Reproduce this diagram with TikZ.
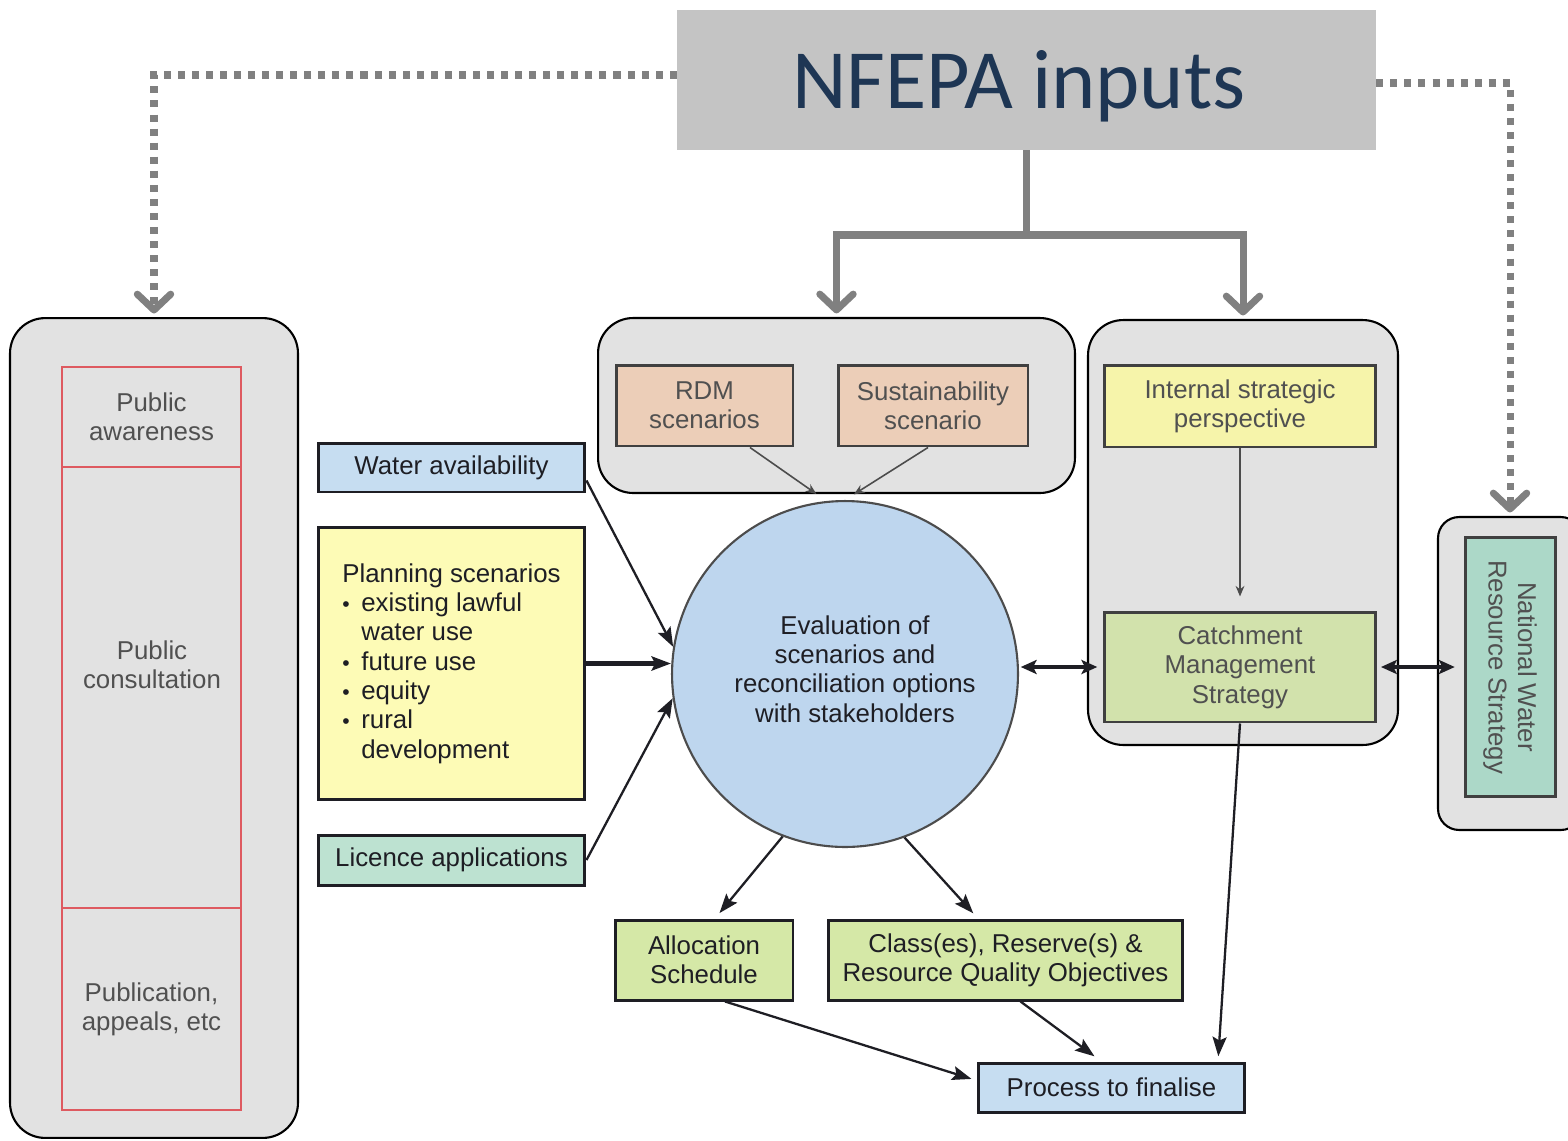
\documentclass[tikz,border=0pt]{standalone}
\usepackage{fontspec}
\setmainfont{Liberation Sans}
\newfontfamily\calib{Carlito}
\usetikzlibrary{arrows.meta,calc}
\definecolor{panelfill}{RGB}{226,226,226}
\definecolor{nfgray}{RGB}{196,196,196}
\definecolor{navy}{RGB}{30,54,84}
\definecolor{garrowc}{RGB}{128,128,128}
\definecolor{peach}{RGB}{236,206,184}
\definecolor{ispyel}{RGB}{246,244,170}
\definecolor{cmsgreen}{RGB}{210,226,172}
\definecolor{nwrsteal}{RGB}{172,216,200}
\definecolor{lblue}{RGB}{198,221,241}
\definecolor{planyel}{RGB}{253,251,182}
\definecolor{licteal}{RGB}{189,226,209}
\definecolor{ogreen}{RGB}{213,232,167}
\definecolor{circblue}{RGB}{190,214,238}
\definecolor{redline}{RGB}{222,90,96}
\definecolor{ptextc}{RGB}{80,80,80}
\definecolor{otextc}{RGB}{30,30,36}
\newcommand\boxfont{\fontsize{14.7}{16.7}\selectfont}
\newcommand\bul{\makebox[0.38cm][l]{\fontsize{12}{12}\selectfont\textbullet}}
\newcommand\ind{\hspace*{0.38cm}}
\begin{document}
\begin{tikzpicture}[x=0.02cm,y=-0.02cm,
  panel/.style={draw=black, line width=1.2pt, fill=panelfill, rounded corners=20pt, inner sep=0pt},
  obox/.style={draw=otextc, line width=1.7pt, align=center, inner sep=0pt, font=\boxfont, text=otextc},
  pbox/.style={draw=black!75, line width=1.7pt, align=center, inner sep=0pt, font=\boxfont, text=ptextc},
  redbox/.style={draw=redline, line width=1.3pt, align=center, inner sep=0pt, font=\boxfont, text=ptextc},
  gline/.style={draw=garrowc, line width=4pt},
  garrow/.style={gline, -{Straight Barb[length=9pt,width=19pt,round]}},
  dline/.style={draw=garrowc, line width=4pt, dash pattern=on 4pt off 4pt, -{Straight Barb[length=9pt,width=19pt,round]}},
  barrow/.style={draw=otextc, line width=1.3pt, -{Stealth[length=11pt,width=8pt,inset=2pt]}},
  sarrow/.style={draw=black!70, line width=0.9pt, -{Stealth[length=6pt,width=5pt]}},
  dbl/.style={draw=otextc, line width=1.8pt, {Stealth[length=9pt,width=8pt,inset=2pt]}-{Stealth[length=9pt,width=8pt,inset=2pt]}}
]
\useasboundingbox (0,0) rectangle (1568,1140);
\fill[white] (0,0) rectangle (1568,1140);

% NFEPA box
\node[fill=nfgray, minimum width=13.98cm, minimum height=2.8cm] (nfepa) at (1026.5,80) {};
\node[font=\calib\fontsize{48}{50}\selectfont, text=navy, text depth=0pt, inner sep=0pt] (nfepatext) at (1019,79) {NFEPA inputs};

% panels
\node[panel, minimum width=5.76cm, minimum height=16.4cm] (lp) at (154,728) {};
\node[panel, minimum width=9.54cm, minimum height=3.5cm] (tp) at (836.5,405.5) {};
\node[panel, minimum width=6.2cm, minimum height=8.5cm] (rp) at (1243,532.5) {};
\node[panel, rounded corners=12pt, minimum width=2.88cm, minimum height=6.26cm] (fp) at (1510,673.5) {};

% left column
\node[redbox, minimum width=3.58cm, minimum height=2cm] (pa) at (151.5,417) {Public\\awareness};
\node[redbox, minimum width=3.58cm, minimum height=8.82cm] (pc) at (151.5,687.5) {};
\node[font=\boxfont, text=ptextc, align=center, inner sep=0pt] (pctext) at (152,665) {Public\\consultation};
\node[redbox, minimum width=3.58cm, minimum height=4.04cm] (pub) at (151.5,1009) {Publication,\\appeals, etc};

% top panel boxes
\node[pbox, fill=peach, minimum width=3.54cm, minimum height=1.62cm] (rdm) at (704.5,405.5) {RDM\\scenarios};
\node[pbox, fill=peach, minimum width=3.8cm, minimum height=1.62cm] (sust) at (933,405.5) {Sustainability\\scenario};

% right panel boxes
\node[pbox, fill=ispyel, minimum width=5.44cm, minimum height=1.64cm] (isp) at (1240,406) {Internal strategic\\perspective};
\node[pbox, fill=cmsgreen, minimum width=5.44cm, minimum height=2.2cm] (cms) at (1240,667) {Catchment\\Management\\Strategy};
\node[pbox, fill=nwrsteal, rotate=-90, minimum width=5.2cm, minimum height=1.8cm] (nwrs) at (1510,667) {National Water\\Resource Strategy};

% circle
\node[circle, draw=black!70, line width=1.2pt, fill=circblue, minimum size=6.92cm, inner sep=0pt] (circ) at (845,674) {};
\node[align=center, font=\boxfont, text=otextc, inner sep=0pt] (circtext) at (855,669)
      {Evaluation of\\scenarios and\\reconciliation options\\with stakeholders};

% left input boxes
\node[obox, fill=lblue, minimum width=5.34cm, minimum height=0.98cm] (water) at (451.5,467.5) {Water availability};
\node[obox, fill=planyel, minimum width=5.34cm, minimum height=5.46cm, align=left] (plan) at (451.5,663.5)
  {Planning scenarios\\\bul existing lawful\\\ind water use\\\bul future use\\\bul equity\\\bul rural\\\ind development};
\node[obox, fill=licteal, minimum width=5.34cm, minimum height=1.0cm] (lic) at (451.5,860) {Licence applications};

% outputs
\node[obox, fill=ogreen, minimum width=3.56cm, minimum height=1.6cm] (alloc) at (704,960) {Allocation\\Schedule};
\node[obox, fill=ogreen, minimum width=7.1cm, minimum height=1.6cm] (cls) at (1005.5,960) {Class(es), Reserve(s) \&\\Resource Quality Objectives};
\node[obox, fill=lblue, minimum width=5.34cm, minimum height=0.98cm] (proc) at (1111.5,1087.5) {Process to finalise};

% gray connectors
\coordinate (j) at (nfepa.south |- 0,235);
\draw[gline] (nfepa.south) -- (j);
\draw[garrow, shorten >=2pt] (j) -| (tp.north);
\draw[garrow, shorten >=2pt] (j) -| (rp.north);
\draw[dline, shorten >=2pt] ([yshift=0.1cm]nfepa.west) -| (lp.north);
\draw[dline, shorten >=2pt] ([yshift=-0.06cm]nfepa.east) -| (fp.north);

% inputs to circle
\draw[barrow] ($(water.east)+(0,13)$) -- (circ.171);
\draw[barrow, line width=2.3pt] (plan.east) -- (plan.east -| circ.west);
\draw[barrow] (lic.east) -- (circ.188);

% scenario arrows
\draw[sarrow, shorten >=6pt] ([xshift=0.91cm]rdm.south) -- ([xshift=-0.4cm]circ.north);
\draw[sarrow, shorten >=6pt] ([xshift=-0.1cm]sust.south) -- (circ.north);
\draw[sarrow, shorten >=8pt] (isp.south) -- (cms.north);

% double arrows
\draw[dbl, shorten <=1pt, shorten >=3pt] (circ.east |- cms.west) -- (cms.west);
\draw[dbl, shorten <=2pt, shorten >=5pt] (cms.east) -- (cms.east -| nwrs.south);

% outputs
\draw[barrow, shorten >=4pt] (circ.249) -- ([xshift=0.22cm]alloc.north);
\draw[barrow, shorten >=4pt] (circ.290) -- ([xshift=-0.55cm]cls.north);
\draw[barrow, shorten >=3pt] (cms.south) -- ([xshift=2.13cm]proc.north);
\draw[barrow, shorten >=3pt] ([xshift=0.42cm]alloc.south) -- ([yshift=0.14cm]proc.west);
\draw[barrow, shorten >=5pt] ([xshift=0.3cm]cls.south) -- ([xshift=-0.2cm]proc.north);
\end{tikzpicture}
\end{document}
